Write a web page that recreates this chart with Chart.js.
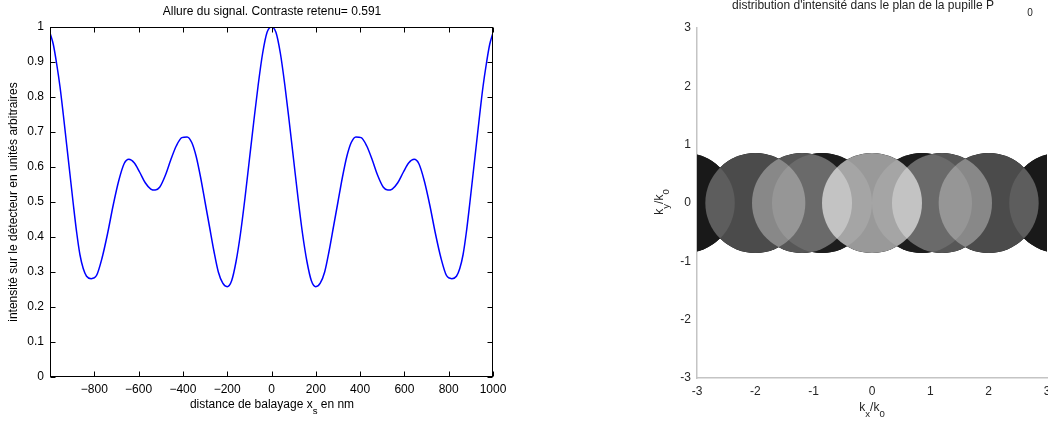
<!DOCTYPE html>
<html>
<head>
<meta charset="utf-8">
<script src="https://cdn.jsdelivr.net/npm/chart.js@4/dist/chart.umd.min.js"></script>
<style>
  body { margin: 0; background: #fff; width: 1048px; height: 421px; overflow: hidden; position: relative; }
  #boiteSignal { position: absolute; left: 0; top: 0; width: 524px; height: 421px; }
  #boitePupille { position: absolute; left: 600px; top: 0; width: 460px; height: 421px; }
</style>
</head>
<body>
<div id="boiteSignal"><canvas id="signal"></canvas></div>
<div id="boitePupille"><canvas id="pupille"></canvas></div>
<script>
// --- signal (graphe de gauche) ---
const positionsNm = [-1000, -985, -970, -955, -940, -925, -910, -895, -880, -865, -850, -835, -814, -790, -765, -740, -715, -690, -665, -644,
  -620, -595, -570, -545, -525, -505, -480, -455, -430, -405, -381, -360, -340, -320, -300, -280, -260, -240, -220, -200,
  -180, -160, -140, -120, -100, -80, -60, -40, -20, 0,
  20, 40, 60, 80, 100, 120, 140, 160, 180,
  200, 220, 240, 260, 280, 300, 320, 340, 360, 381, 405, 430, 455, 480, 505, 525,
  545, 570, 595, 620, 644, 665, 690, 715, 740, 765, 790, 814, 835, 850, 865, 880, 895, 910, 925, 940, 955, 970, 985, 1000];
const intensite = [0.983, 0.95, 0.895, 0.83, 0.75, 0.665, 0.58, 0.495, 0.415, 0.35, 0.31, 0.288, 0.281, 0.29, 0.34, 0.41, 0.49, 0.56, 0.61, 0.622,
  0.612, 0.585, 0.555, 0.537, 0.534, 0.542, 0.575, 0.62, 0.66, 0.684, 0.686, 0.67, 0.63, 0.57, 0.50, 0.43, 0.36, 0.30, 0.268, 0.258,
  0.275, 0.33, 0.41, 0.51, 0.62, 0.73, 0.835, 0.925, 0.985, 1.0,
  0.985, 0.925, 0.835, 0.73, 0.62, 0.51, 0.41, 0.33, 0.275,
  0.258, 0.268, 0.30, 0.36, 0.43, 0.50, 0.57, 0.63, 0.67, 0.686, 0.684, 0.66, 0.62, 0.575, 0.542, 0.534,
  0.537, 0.555, 0.585, 0.612, 0.622, 0.61, 0.56, 0.49, 0.41, 0.34, 0.29, 0.281, 0.288, 0.31, 0.35, 0.415, 0.495, 0.58, 0.665, 0.75, 0.83, 0.895, 0.95, 0.983];
const ticksX = [-1000, -800, -600, -400, -200, 0, 200, 400, 600, 800, 1000];
const ticksY = [0, 0.1, 0.2, 0.3, 0.4, 0.5, 0.6, 0.7, 0.8, 0.9, 1];

// --- pupille (graphe de droite) ---
const rayonPupille = 0.857;
const centresOrdre0 = [0];
const centresE = [-0.857, 0.857];
const centresB = [-1.2, 1.2];
const centresC = [-2.0, 2.0];
const centresD = [-3.21, 3.21];
const grisOrdres = [153, 29, 87, 75, 25];   // niveau de gris de chaque famille de disques
const ticksPupille = [-3, -2, -1, 0, 1, 2, 3];

const police = t => t + 'px "Liberation Sans", Arial, Helvetica, sans-serif';

// texte avec indices, centré en (cx, cy)
function texteRiche(ctx, morceaux, cx, cy, taille) {
  let largeur = 0;
  const w = morceaux.map(([t, bas]) => {
    ctx.font = police(bas ? taille * 0.8 : taille);
    const m = ctx.measureText(t).width;
    largeur += m;
    return m;
  });
  let px = cx - largeur / 2;
  ctx.textAlign = 'left';
  ctx.textBaseline = 'middle';
  morceaux.forEach(([t, bas], i) => {
    ctx.font = police(bas ? taille * 0.8 : taille);
    ctx.fillText(t, px, bas ? cy + taille * 0.5 : cy);
    px += w[i];
  });
}

const cadreSignal = {
  id: 'cadreSignal',
  afterDraw(chart) {
    const { ctx, chartArea: a, scales: { x, y } } = chart;
    ctx.save();
    ctx.strokeStyle = '#000';
    ctx.lineWidth = 1;
    const L = Math.round(a.left) + 0.5, R = Math.round(a.right) - 0.5;
    const T = Math.round(a.top) + 0.5, B = Math.round(a.bottom) - 0.5;
    ctx.strokeRect(L, T, R - L, B - T);
    ctx.beginPath();
    ticksX.forEach(v => {
      const p = Math.round(x.getPixelForValue(v)) + 0.5;
      ctx.moveTo(p, B); ctx.lineTo(p, B - 5);
      ctx.moveTo(p, T); ctx.lineTo(p, T + 5);
    });
    ticksY.forEach(v => {
      const p = Math.round(y.getPixelForValue(v)) + 0.5;
      ctx.moveTo(L, p); ctx.lineTo(L + 5, p);
      ctx.moveTo(R, p); ctx.lineTo(R - 5, p);
    });
    ctx.stroke();

    ctx.fillStyle = '#000';
    ctx.font = police(12);
    ctx.textAlign = 'center';
    ctx.textBaseline = 'middle';
    ctx.fillText('Allure du signal. Contraste retenu= 0.591', 272, 12);
    texteRiche(ctx, [['distance de balayage x', false], ['s', true], [' en nm', false]], 272, 405, 12);
    ctx.translate(14, 202);
    ctx.rotate(-Math.PI / 2);
    ctx.textAlign = 'center';
    ctx.font = police(12);
    ctx.fillText('intensité sur le détecteur en unités arbitraires', 0, 0);
    ctx.restore();
  }
};

new Chart(document.getElementById('signal'), {
  type: 'line',
  data: {
    datasets: [{
      data: positionsNm.map((v, i) => ({ x: v, y: intensite[i] })),
      borderColor: '#0000ff',
      borderWidth: 1.5,
      pointRadius: 0,
      cubicInterpolationMode: 'monotone',
      fill: false
    }]
  },
  options: {
    responsive: true,
    maintainAspectRatio: false,
    animation: false,
    events: [],
    layout: { padding: { left: 0, top: 27, right: 31, bottom: 0 } },
    plugins: { legend: { display: false }, tooltip: { enabled: false } },
    scales: {
      x: {
        type: 'linear', min: -1000, max: 1000,
        afterFit: s => { s.height = 44; },
        afterBuildTicks: s => { s.ticks = ticksX.map(v => ({ value: v })); },
        grid: { display: false, drawTicks: false },
        border: { display: false },
        ticks: {
          padding: 5, color: '#000', maxRotation: 0, autoSkip: false,
          font: { family: '"Liberation Sans", Arial, sans-serif', size: 12 },
          callback: v => v === -1000 ? '' : (v < 0 ? '\u2212' + (-v) : String(v))
        }
      },
      y: {
        min: 0, max: 1,
        afterFit: s => { s.width = 50; },
        afterBuildTicks: s => { s.ticks = ticksY.map(v => ({ value: v })); },
        grid: { display: false, drawTicks: false },
        border: { display: false },
        ticks: {
          padding: 6, color: '#000',
          font: { family: '"Liberation Sans", Arial, sans-serif', size: 12 },
          callback: v => String(Number(v.toFixed(1)))
        }
      }
    }
  },
  plugins: [cadreSignal]
});

// --- pupille ---
// les disques d'ordre s'additionnent en mode "screen" sur un support noir
const fusionEcran = {
  id: 'fusionEcran',
  beforeDatasetDraw(chart, args) {
    chart.ctx.save();
    chart.ctx.globalCompositeOperation = chart.data.datasets[args.index].label === 'support' ? 'source-over' : 'screen';
  },
  afterDatasetDraw(chart) { chart.ctx.restore(); }
};

const textesPupille = {
  id: 'textesPupille',
  afterDraw(chart) {
    const { ctx } = chart;
    ctx.save();
    ctx.fillStyle = '#222';
    ctx.font = police(12);
    ctx.textAlign = 'center';
    ctx.textBaseline = 'middle';
    ctx.fillText("distribution d'intensité dans le plan de la pupille P", 263, 6);
    ctx.font = police(10);
    ctx.fillText('0', 430, 13);
    texteRiche(ctx, [['k', false], ['x', true], ['/k', false], ['0', true]], 272, 408, 12);
    ctx.translate(60, 202);
    ctx.rotate(-Math.PI / 2);
    texteRiche(ctx, [['k', false], ['y', true], ['/k', false], ['0', true]], 0, 0, 12);
    ctx.restore();
  }
};

const familles = [centresOrdre0, centresE, centresB, centresC, centresD];
const disques = familles.map((centres, i) => ({
  label: 'ordre ' + i,
  data: centres.map(v => ({ x: v, y: 0 })),
  backgroundColor: `rgb(${grisOrdres[i]},${grisOrdres[i]},${grisOrdres[i]})`
}));
disques.push({
  label: 'support',
  data: familles.flat().map(v => ({ x: v, y: 0 })),
  backgroundColor: '#000'
});

const pupille = new Chart(document.getElementById('pupille'), {
  type: 'bubble',
  data: {
    datasets: disques.map(d => Object.assign(d, {
      borderWidth: 0,
      hoverRadius: 0,
      clip: 0
    }))
  },
  options: {
    responsive: true,
    maintainAspectRatio: false,
    animation: false,
    events: [],
    layout: { autoPadding: false, padding: { left: 0, top: 28, right: 13, bottom: 0 } },
    plugins: { legend: { display: false }, tooltip: { enabled: false } },
    scales: {
      x: {
        type: 'linear', min: -3, max: 3,
        afterFit: s => { s.height = 43; },
        afterBuildTicks: s => { s.ticks = ticksPupille.map(v => ({ value: v })); },
        grid: { display: true, drawOnChartArea: false, drawTicks: false },
        border: { display: true, color: '#c4c4c4', width: 1.5 },
        ticks: { padding: 6, color: '#262626', font: { family: '"Liberation Sans", Arial, sans-serif', size: 12 } }
      },
      y: {
        type: 'linear', min: -3, max: 3,
        afterFit: s => { s.width = 97; },
        afterBuildTicks: s => { s.ticks = ticksPupille.map(v => ({ value: v })); },
        grid: { display: true, drawOnChartArea: false, drawTicks: false },
        border: { display: true, color: '#c4c4c4', width: 1.5 },
        ticks: { padding: 6, color: '#262626', font: { family: '"Liberation Sans", Arial, sans-serif', size: 12 } }
      }
    }
  },
  plugins: [fusionEcran, textesPupille]
});

const sx = pupille.scales.x;
const rayonPx = Math.abs(sx.getPixelForValue(rayonPupille) - sx.getPixelForValue(0));
pupille.data.datasets.forEach(d => d.data.forEach(p => { p.r = rayonPx; }));
pupille.update('none');
</script>
</body>
</html>
